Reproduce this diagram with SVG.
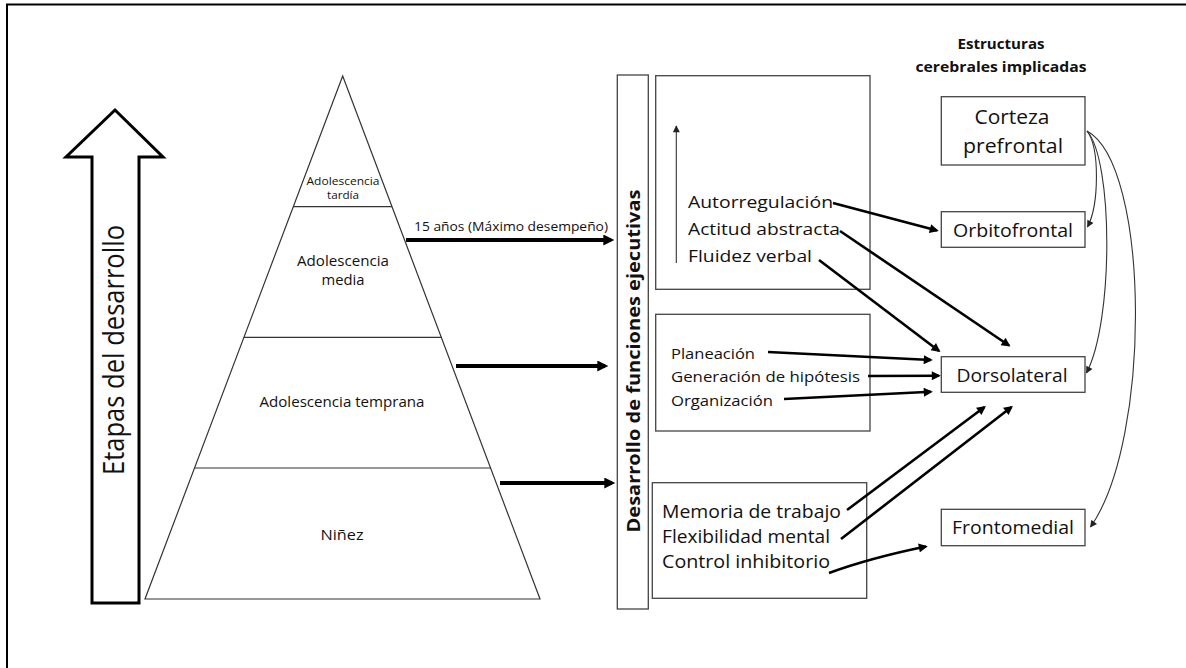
<svg xmlns="http://www.w3.org/2000/svg" width="1186" height="668" viewBox="0 0 1186 668">
<style>
text{font-family:"Open Sans","Liberation Sans",sans-serif;fill:#111}
.b{font-weight:bold}
.box{fill:#fff;stroke:#444;stroke-width:1.3}
.pyr{fill:none;stroke:#333;stroke-width:1.2}
.thick{stroke:#000;stroke-width:4;fill:none}
.con{stroke:#000;stroke-width:2.6;fill:none}
.thin{stroke:#333;stroke-width:1.1;fill:none}
</style>
<defs>
<marker id="big" viewBox="0 0 10 10" refX="7" refY="5" markerWidth="12" markerHeight="11" markerUnits="userSpaceOnUse" orient="auto"><path d="M0,0 L10,5 L0,10 z" fill="#000"/></marker>
<marker id="mid" viewBox="0 0 10 10" refX="8" refY="5" markerWidth="11" markerHeight="9" markerUnits="userSpaceOnUse" orient="auto"><path d="M0,0 L10,5 L0,10 z" fill="#000"/></marker>
<marker id="sm" viewBox="0 0 10 10" refX="9" refY="5" markerWidth="8" markerHeight="7" markerUnits="userSpaceOnUse" orient="auto"><path d="M0,0 L10,5 L0,10 z" fill="#222"/></marker>
</defs>
<rect width="1186" height="668" fill="#fff"/>
<path d="M7,668 L7,4.5 L1186,4.5" fill="none" stroke="#000" stroke-width="2"/>

<g id="stages-arrow">
<path d="M115,110 L163,157 L139,157 L139,603 L92,603 L92,157 L66,157 Z" fill="#fff" stroke="#000" stroke-width="3"/>
<text transform="translate(124,350) rotate(-90)" font-size="29" text-anchor="middle" textLength="250" lengthAdjust="spacingAndGlyphs">Etapas del desarrollo</text>
</g>

<g id="pyramid">
<polygon class="pyr" points="342.7,76 540,599 145,599"/>
<line class="pyr" x1="293" y1="206.7" x2="392" y2="206.7"/>
<line class="pyr" x1="244" y1="337.3" x2="442" y2="337.3"/>
<line class="pyr" x1="194.5" y1="468" x2="491" y2="468"/>
<text x="343" y="185" font-size="11" text-anchor="middle" textLength="73" lengthAdjust="spacingAndGlyphs">Adolescencia</text>
<text x="343" y="199" font-size="11" text-anchor="middle" textLength="32" lengthAdjust="spacingAndGlyphs">tardía</text>
<text x="343" y="266" font-size="15" text-anchor="middle" textLength="92" lengthAdjust="spacingAndGlyphs">Adolescencia</text>
<text x="343" y="285" font-size="15" text-anchor="middle" textLength="43" lengthAdjust="spacingAndGlyphs">media</text>
<text x="342" y="407" font-size="15" text-anchor="middle" textLength="165" lengthAdjust="spacingAndGlyphs">Adolescencia temprana</text>
<text x="342" y="540" font-size="15" text-anchor="middle" textLength="43" lengthAdjust="spacingAndGlyphs">Niñez</text>
</g>

<g id="label-15">
<text x="414" y="231" font-size="13" textLength="194" lengthAdjust="spacingAndGlyphs">15 años (Máximo desempeño)</text>
</g>

<g id="fe-bar">
<rect class="box" x="617.3" y="75" width="31" height="534"/>
<text class="b" transform="translate(640,361) rotate(-90)" font-size="18" text-anchor="middle" textLength="343" lengthAdjust="spacingAndGlyphs">Desarrollo de funciones ejecutivas</text>
</g>

<g id="box-top">
<rect class="box" x="655.7" y="75.7" width="214.3" height="213.6"/>
<text x="688" y="208" font-size="17" textLength="145" lengthAdjust="spacingAndGlyphs">Autorregulación</text>
<text x="688" y="235" font-size="17" textLength="152" lengthAdjust="spacingAndGlyphs">Actitud abstracta</text>
<text x="688" y="262" font-size="17" textLength="124" lengthAdjust="spacingAndGlyphs">Fluidez verbal</text>
</g>

<g id="box-mid">
<rect class="box" x="655.7" y="314.3" width="214.3" height="116.7"/>
<text x="671" y="359" font-size="15" textLength="84" lengthAdjust="spacingAndGlyphs">Planeación</text>
<text x="671" y="382" font-size="15" textLength="189" lengthAdjust="spacingAndGlyphs">Generación de hipótesis</text>
<text x="671" y="406" font-size="15" textLength="102" lengthAdjust="spacingAndGlyphs">Organización</text>
</g>

<g id="box-low">
<rect class="box" x="652.3" y="482.7" width="214.4" height="115.6"/>
<text x="662" y="518" font-size="17.5" textLength="179" lengthAdjust="spacingAndGlyphs">Memoria de trabajo</text>
<text x="662" y="543" font-size="17.5" textLength="168" lengthAdjust="spacingAndGlyphs">Flexibilidad mental</text>
<text x="662" y="568" font-size="17.5" textLength="168" lengthAdjust="spacingAndGlyphs">Control inhibitorio</text>
</g>

<g id="title-structures">
<text class="b" x="1001" y="49" font-size="14" text-anchor="middle" textLength="87" lengthAdjust="spacingAndGlyphs">Estructuras</text>
<text class="b" x="1001" y="72" font-size="14" text-anchor="middle" textLength="171" lengthAdjust="spacingAndGlyphs">cerebrales implicadas</text>
</g>

<g id="corteza">
<rect class="box" x="941.3" y="96.7" width="143.7" height="68.3"/>
<text x="1012" y="124" font-size="20" text-anchor="middle" textLength="75" lengthAdjust="spacingAndGlyphs">Corteza</text>
<text x="1013" y="153" font-size="20" text-anchor="middle" textLength="100" lengthAdjust="spacingAndGlyphs">prefrontal</text>
</g>

<g id="orbitofrontal">
<rect class="box" x="941.3" y="211.7" width="143.7" height="35.6"/>
<text x="1013" y="237" font-size="18" text-anchor="middle" textLength="120" lengthAdjust="spacingAndGlyphs">Orbitofrontal</text>
</g>

<g id="dorsolateral">
<rect class="box" x="941.3" y="356.7" width="143.7" height="35.6"/>
<text x="1012" y="382" font-size="18" text-anchor="middle" textLength="111" lengthAdjust="spacingAndGlyphs">Dorsolateral</text>
</g>

<g id="frontomedial">
<rect class="box" x="941.3" y="509.3" width="143.7" height="36.4"/>
<text x="1013" y="534" font-size="18" text-anchor="middle" textLength="122" lengthAdjust="spacingAndGlyphs">Frontomedial</text>
</g>

<g id="connectors">
<line class="thick" x1="406" y1="240" x2="611" y2="240" marker-end="url(#big)"/>
<line class="thick" x1="456" y1="366" x2="605" y2="366" marker-end="url(#big)"/>
<line class="thick" x1="500" y1="483" x2="612" y2="483" marker-end="url(#big)"/>

<line class="thin" x1="676.3" y1="263" x2="676.3" y2="126" marker-end="url(#sm)"/>

<line class="con" x1="833" y1="203" x2="937" y2="230.5" marker-end="url(#mid)"/>
<line class="con" x1="840" y1="231" x2="1009" y2="345.5" marker-end="url(#mid)"/>
<line class="con" x1="819" y1="260" x2="939" y2="351" marker-end="url(#mid)"/>
<line class="con" x1="768" y1="352" x2="931" y2="360" marker-end="url(#mid)"/>
<line class="con" x1="868" y1="376" x2="939" y2="375.7" marker-end="url(#mid)"/>
<line class="con" x1="784" y1="399" x2="931" y2="391.8" marker-end="url(#mid)"/>
<line class="con" x1="847" y1="510" x2="984.5" y2="407" marker-end="url(#mid)"/>
<line class="con" x1="841" y1="539" x2="1011.5" y2="407" marker-end="url(#mid)"/>
<path class="con" d="M829,573 Q870,558 926,546.5" marker-end="url(#mid)"/>

<path class="thin" d="M1087,131 C1100,148 1099,205 1087.5,227" marker-end="url(#sm)"/>
<path class="thin" d="M1087,131 C1113,160 1114,320 1086.5,373" marker-end="url(#sm)"/>
<path class="thin" d="M1087,131 C1150,165 1152,440 1090.5,527" marker-end="url(#sm)"/>
</g>
</svg>
